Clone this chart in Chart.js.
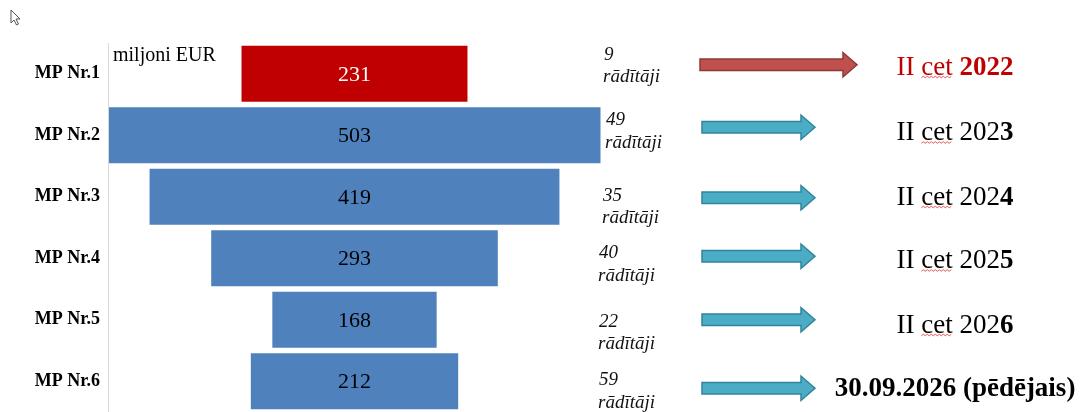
<!DOCTYPE html>
<html>
<head>
<meta charset="utf-8">
<script src="https://cdn.jsdelivr.net/npm/chart.js@4"></script>
<style>
  html, body { margin: 0; padding: 0; background: #fff; }
  #wrap { width: 1085px; height: 412px; position: relative; }
</style>
</head>
<body>
<div id="wrap"><canvas id="funnel"></canvas></div>
<script>
// MP rounds: budget (miljoni EUR), number of indicators, reporting deadline
const categories = ['MP Nr.1', 'MP Nr.2', 'MP Nr.3', 'MP Nr.4', 'MP Nr.5', 'MP Nr.6'];
const amounts = [231, 503, 419, 293, 168, 212];
const indicatorCounts = [9, 49, 35, 40, 22, 59];
const deadlineText = ['II cet ', 'II cet 202', 'II cet 202', 'II cet 202', 'II cet 202', ''];
const deadlineBold = ['2022', '3', '4', '5', '6', '30.09.2026 (pēdējais)'];
const unitLabel = 'miljoni EUR';
const indicatorWord = 'rādītāji';

const serif = '"Liberation Serif", "Times New Roman", serif';
const blue = '#4F81BD';
const red = '#C00000';

// small per-row nudges so the side notes sit like in the slide
const noteShift = [-3, 1, 15, 11, 18, 15];
const noteIndent = [1, 3, 0, -4, -4, -4];
const arrowShift = [-9, -8, 1, -2, 0, 7];
const textShift = [1, 5, 8, 10, 13, 15];

function drawArrow(ctx, x0, x1, y, fill, stroke) {
    const shaft = 5.7, head = 12.2, headLen = 14;
    ctx.beginPath();
    ctx.moveTo(x0, y - shaft);
    ctx.lineTo(x1 - headLen, y - shaft);
    ctx.lineTo(x1 - headLen, y - head);
    ctx.lineTo(x1, y);
    ctx.lineTo(x1 - headLen, y + head);
    ctx.lineTo(x1 - headLen, y + shaft);
    ctx.lineTo(x0, y + shaft);
    ctx.closePath();
    ctx.fillStyle = fill;
    ctx.fill();
    ctx.strokeStyle = stroke;
    ctx.lineWidth = 1.5;
    ctx.stroke();
}

function drawSquiggle(ctx, x0, x1, y) {
    ctx.beginPath();
    ctx.moveTo(x0, y);
    let up = true;
    for (let x = x0 + 2; x <= x1; x += 2) {
        ctx.lineTo(x, up ? y - 1.5 : y);
        up = !up;
    }
    ctx.strokeStyle = '#e03030';
    ctx.lineWidth = 0.8;
    ctx.stroke();
}

const decorations = {
    id: 'decorations',
    afterDatasetsDraw(chart) {
        const ctx = chart.ctx;
        const area = chart.chartArea;
        const bars = chart.getDatasetMeta(0).data;
        ctx.save();

        // vertical axis line
        ctx.strokeStyle = '#d9d9d9';
        ctx.lineWidth = 1;
        ctx.beginPath();
        ctx.moveTo(area.left + 0.5, area.top);
        ctx.lineTo(area.left + 0.5, area.bottom);
        ctx.stroke();

        // values inside the bars
        ctx.font = '22px ' + serif;
        ctx.textAlign = 'center';
        ctx.textBaseline = 'middle';
        bars.forEach((bar, i) => {
            ctx.fillStyle = i === 0 ? '#ffffff' : '#000000';
            ctx.fillText(String(amounts[i]), (bar.x + bar.base) / 2, bar.y + 1);
        });

        // unit
        ctx.textAlign = 'left';
        ctx.textBaseline = 'alphabetic';
        ctx.fillStyle = '#000';
        ctx.font = '20px ' + serif;
        ctx.fillText(unitLabel, area.left + 5, area.top + 18);

        bars.forEach((bar, i) => {
            const y = bar.y;

            // "N rādītāji"
            const nx = area.right + noteIndent[i] + 1;
            ctx.font = 'italic 19px ' + serif;
            ctx.fillStyle = '#111';
            ctx.textAlign = 'left';
            ctx.fillText(String(indicatorCounts[i]), nx + 1, y + noteShift[i] - 11);
            ctx.fillText(indicatorWord, nx, y + noteShift[i] + 11.5);

            // arrow
            const ay = y + arrowShift[i];
            const ax = area.right + 99;
            if (i === 0) {
                drawArrow(ctx, ax, ax + 157, ay, '#C0504D', '#8C3836');
            } else {
                drawArrow(ctx, ax + 2, ax + 115, ay, '#4BACC6', '#31849B');
            }

            // deadline
            const ty = y + textShift[i];
            const cx = area.right + 354;
            ctx.font = '27px ' + serif;
            const w1 = ctx.measureText(deadlineText[i]).width;
            ctx.font = 'bold 27px ' + serif;
            const w2 = ctx.measureText(deadlineBold[i]).width;
            const start = cx - (w1 + w2) / 2;
            ctx.fillStyle = i === 0 ? red : '#000';
            ctx.font = '27px ' + serif;
            ctx.fillText(deadlineText[i], start, ty);
            ctx.font = 'bold 27px ' + serif;
            ctx.fillText(deadlineBold[i], start + w1, ty);

            if (deadlineText[i]) {
                ctx.font = '27px ' + serif;
                const pre = ctx.measureText('II ').width;
                const cw = ctx.measureText('cet').width;
                drawSquiggle(ctx, start + pre, start + pre + cw, ty + 3);
            }
        });

        // mouse pointer left in the screenshot
        ctx.beginPath();
        ctx.moveTo(11, 10);
        ctx.lineTo(11, 23);
        ctx.lineTo(14, 20);
        ctx.lineTo(16.5, 25);
        ctx.lineTo(18.5, 24);
        ctx.lineTo(16, 19);
        ctx.lineTo(20, 19);
        ctx.closePath();
        ctx.fillStyle = '#fff';
        ctx.fill();
        ctx.strokeStyle = '#555';
        ctx.lineWidth = 1;
        ctx.stroke();

        ctx.restore();
    }
};

new Chart(document.getElementById('funnel'), {
    type: 'bar',
    data: {
        labels: categories,
        datasets: [{
            data: amounts.map(v => [-v / 2, v / 2]),
            backgroundColor: amounts.map((v, i) => i === 0 ? red : blue),
            borderWidth: 0,
            barPercentage: 0.91,
            categoryPercentage: 1
        }]
    },
    options: {
        indexAxis: 'y',
        responsive: true,
        maintainAspectRatio: false,
        animation: false,
        layout: { padding: { left: 0, right: 484, top: 43, bottom: 0 } },
        plugins: {
            legend: { display: false },
            tooltip: { enabled: false }
        },
        scales: {
            x: { display: false, min: -252, max: 252 },
            y: {
                grid: { display: false, drawTicks: false },
                border: { display: false },
                ticks: {
                    color: '#000',
                    padding: 8,
                    font: { family: serif, size: 18, weight: 'bold' }
                },
                afterFit: (scale) => {
                    scale.width = 108;
                    scale.paddingTop = 0;
                    scale.paddingBottom = 0;
                }
            }
        }
    },
    plugins: [decorations]
});
</script>
</body>
</html>
